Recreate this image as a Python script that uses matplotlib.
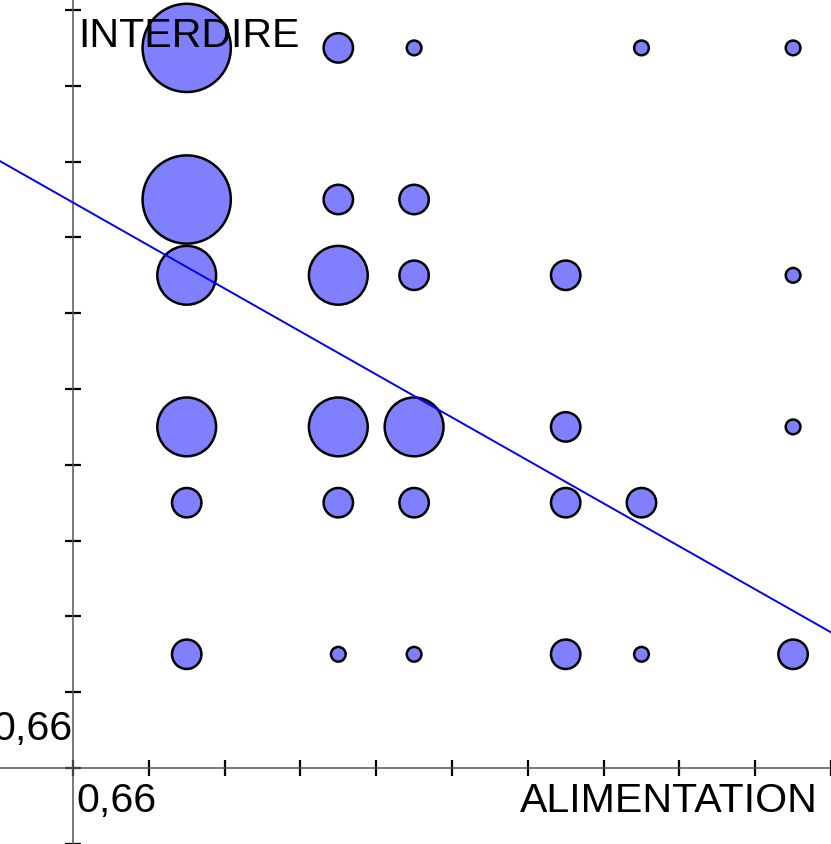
import matplotlib
matplotlib.use("Agg")
import matplotlib.pyplot as plt
from matplotlib.patches import Circle
import numpy as np

# positions en unités de graduation (origine = 0,66)
x_vals = [1.5, 3.5, 4.5, 7.5, 9.5,
          1.5, 3.5, 4.5,
          1.5, 3.5, 4.5, 6.5, 9.5,
          1.5, 3.5, 4.5, 6.5, 9.5,
          1.5, 3.5, 4.5, 6.5, 7.5,
          1.5, 3.5, 4.5, 6.5, 7.5, 9.5]
y_vals = [9.5, 9.5, 9.5, 9.5, 9.5,
          7.5, 7.5, 7.5,
          6.5, 6.5, 6.5, 6.5, 6.5,
          4.5, 4.5, 4.5, 4.5, 4.5,
          3.5, 3.5, 3.5, 3.5, 3.5,
          1.5, 1.5, 1.5, 1.5, 1.5, 1.5]
effectifs = [6, 2, 1, 1, 1,
             6, 2, 2,
             4, 4, 2, 2, 1,
             4, 4, 4, 2, 1,
             2, 2, 2, 2, 2,
             2, 1, 1, 2, 1, 2]

# droite de régression
ordonnee = 7.46
pente = -0.567

x_label = "ALIMENTATION"
y_label = "INTERDIRE"
origine = "0,66"

plt.rcParams['font.family'] = ['Liberation Sans', 'DejaVu Sans']

fig = plt.figure(figsize=(8.31, 8.44), dpi=100)
ax = fig.add_axes([0, 0, 1, 1])
ax.set_xlim(-0.963, 10.0)
ax.set_ylim(-1.003, 10.132)
ax.set_aspect('equal')

# axes qui se croisent à l'origine
for s in ['top', 'right']:
    ax.spines[s].set_visible(False)
ax.spines['left'].set_position(('data', 0))
ax.spines['bottom'].set_position(('data', 0))
for s in ['left', 'bottom']:
    ax.spines[s].set_color('#555555')
    ax.spines[s].set_linewidth(1.1)
ax.set_xticks(np.arange(0, 11))
ax.set_yticks(np.arange(-1, 11))
ax.tick_params(direction='inout', length=12, width=1.6, color='black',
               labelbottom=False, labelleft=False)

# bulles
for x, y, n in zip(x_vals, y_vals, effectifs):
    ax.add_patch(Circle((x, y), 0.097 * n, facecolor='#8080ff',
                        edgecolor='black', linewidth=1.8, zorder=2))

xx = np.array(ax.get_xlim())
ax.plot(xx, ordonnee + pente * xx, color='#0000ff', linewidth=1.4, zorder=3)

ax.text(0.066, 9.51, y_label, fontsize=29.6, va='baseline', ha='left', zorder=4)
ax.text(9.83, -0.58, x_label, fontsize=29.6, va='baseline', ha='right', zorder=4)
ax.text(0.04, -0.58, origine, fontsize=29.6, va='baseline', ha='left', zorder=4)
ax.text(-0.01, 0.37, origine, fontsize=29.6, va='baseline', ha='right', zorder=4)

fig.savefig("out.png", dpi=100)
